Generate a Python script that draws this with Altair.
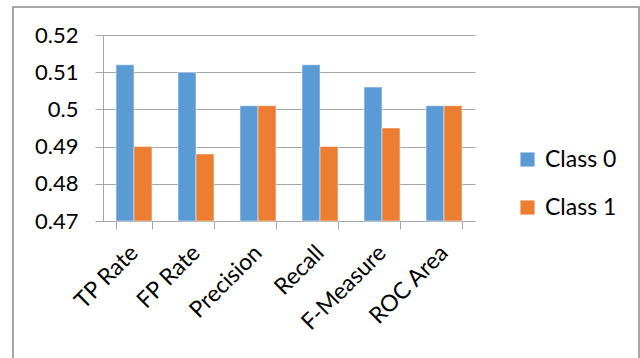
import altair as alt
import pandas as pd

categories = ["TP Rate", "FP Rate", "Precision", "Recall", "F-Measure", "ROC Area"]
class0 = [0.512, 0.510, 0.501, 0.512, 0.506, 0.501]
class1 = [0.490, 0.488, 0.501, 0.490, 0.495, 0.501]
series = ["Class 0", "Class 1"]
y_ticks = [0.47, 0.48, 0.49, 0.50, 0.51, 0.52]

rows = []
for c, a, b in zip(categories, class0, class1):
    rows.append({"metric": c, "series": series[0], "value": a})
    rows.append({"metric": c, "series": series[1], "value": b})
df = pd.DataFrame(rows)

FONT = "Lato"
GRID = "#A6A6A6"

bars = alt.Chart(df).mark_bar(stroke="white", strokeWidth=0.6, strokeOpacity=0.8).encode(
    x=alt.X("metric:N", sort=categories, title=None,
            scale=alt.Scale(paddingInner=0.42, paddingOuter=0.21),
            axis=alt.Axis(labelAngle=-45, labelAlign="right", labelBaseline="middle",
                          tickBand="extent", tickSize=8, tickColor=GRID, domainColor=GRID,
                          labelPadding=20, labelFontSize=23, labelFont=FONT,
                          labelColor="black", grid=False)),
    xOffset=alt.XOffset("series:N", sort=series),
    y=alt.Y("value:Q", title=None,
            scale=alt.Scale(domain=[0.47, 0.52], zero=False, nice=False),
            axis=alt.Axis(values=y_ticks, format=".2~f", tickSize=8, tickColor=GRID,
                          domainColor=GRID, gridColor=GRID, grid=True,
                          labelPadding=17, labelFontSize=22, labelFont=FONT,
                          labelColor="black")),
    y2=alt.Y2(datum=0.47),
    color=alt.Color("series:N", sort=series,
                    scale=alt.Scale(domain=series, range=["#5B9BD5", "#ED7D31"]),
                    legend=alt.Legend(title=None, orient="none", legendX=413, legendY=113,
                                      symbolType="square", symbolSize=200,
                                      symbolStrokeWidth=0, labelFontSize=23,
                                      labelFont=FONT, labelColor="black",
                                      rowPadding=24, labelOffset=6)),
)

border = alt.Chart(alt.Data(values=[{"a": 1}])).mark_rect(
    fill=None, stroke="#8C8C8C", strokeWidth=1.5
).encode(
    x=alt.value(-90), x2=alt.value(536), y=alt.value(-28), y2=alt.value(345)
)

chart = alt.layer(border, bars).properties(
    width=372, height=186,
    autosize=alt.AutoSizeParams(type="none"),
    padding={"left": 103, "top": 35, "right": 165, "bottom": 137},
    background="white",
).configure_view(stroke=None)

chart.save("out.html", embed_options={"renderer": "svg", "actions": False})
